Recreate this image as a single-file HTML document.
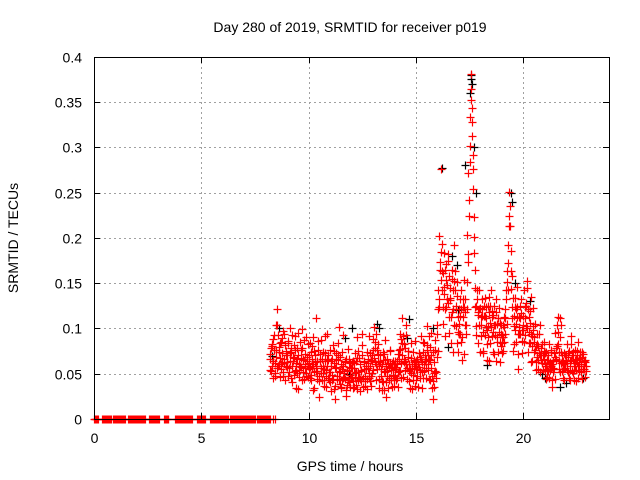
<!DOCTYPE html>
<html><head><meta charset="utf-8"><style>
body{margin:0;background:#fff}
svg{display:block;font-family:"Liberation Sans",sans-serif}
</style></head><body>
<svg id="chart" width="640" height="480" viewBox="0 0 640 480" xmlns="http://www.w3.org/2000/svg">
<rect width="640" height="480" fill="#fff"/>
<text x="350" y="32" font-size="14" text-anchor="middle">Day 280 of 2019, SRMTID for receiver p019</text>
<text x="350" y="471" font-size="14" text-anchor="middle">GPS time / hours</text>
<text transform="translate(18,238) rotate(-90)" font-size="14" text-anchor="middle">SRMTID / TECUs</text>
<g id="grid"></g>
<g id="black"></g>
<g id="red"></g>
<g id="axes"></g>
</svg>
<script>
const xTicks=[0,5,10,15,20];
const yTicks=[0,0.05,0.1,0.15,0.2,0.25,0.3,0.35,0.4];
const yLabels=["0","0.05","0.1","0.15","0.2","0.25","0.3","0.35","0.4"];
const tStart=8.2, tStep=0.05;
const redA=[.072,.053,.081,.064,.093,.047,.076,.122,.061,.084,.055,.073,.097,.062,.043,.071,
.063,.086,.052,.101,.074,.041,.067,.092,.054,.078,.033,.061,.085,.057,.099,.066,.044,.072,.051,.083,
.062,.045,.074,.056,.091,.034,.063,.112,.053,.076,.042,.064,.087,.051,.036,.073,.054,.094,.065,.043,
.052,.031,.066,.044,.075,.022,.057,.084,.043,.068,.035,.055,.093,.046,.064,.032,.053,.077,.041,.062,
.046,.064,.035,.073,.052,.091,.043,.067,.031,.054,.082,.045,.063,.036,.074,.056,.092,.042,.065,.051,
.076,.102,.063,.094,.055,.083,.044,.071,.032,.065,.053,.087,.041,.066,.034,.057,.075,.043,.062,.054,
.036,.064,.045,.072,.053,.094,.062,.112,.046,.083,.064,.104,.056,.075,.042,.067,.033,.074,.055,.086,
.043,.066,.035,.073,.054,.092,.063,.045,.084,.056,.103,.071,.044,.065,.095,.034,.022,.063,.087,.052,
.104,.143,.202,.276,.163,.124,.183,.092,.154,.132,.175,.113,.145,.084,.164,.122,.192,.103,.136,.074,
.122,.094,.143,.065,.113,.154,.132,.104,.203,.272,.334,.381,.312,.254,.223,.145,.103,.132,.084,.121,
.123,.092,.114,.073,.134,.102,.083,.125,.064,.106,.143,.092,.115,.072,.104,.133,.085,.112,.063,.094,
.073,.104,.085,.121,.132,.163,.192,.251,.213,.144,.112,.083,.124,.105,.146,.072,.113,.094,.132,.086,
.114,.143,.093,.125,.152,.084,.106,.063,.092,.123,.074,.105,.054,.083,.065,.094,.052,.073,.062,.085,
.053,.074,.046,.065,.083,.054,.076,.043,.064,.055,.095,.066,.113,.074,.052,.104,.063,.045,.073,.056,
.064,.083,.052,.075,.043,.092,.065,.054,.076,.042,.063,.085,.053,.074,.061,.044,.072,.055,.063];
const redB=[.054,.083,.045,.076,.062,.104,.056,.093,.074,.046,.085,.063,.052,.094,.075,.057,
.084,.056,.073,.045,.093,.064,.082,.053,.034,.066,.095,.054,.076,.043,.065,.087,.056,.091,.064,.046,
.055,.084,.043,.066,.032,.075,.053,.044,.086,.024,.064,.056,.043,.074,.055,.092,.035,.066,.045,.076,
.064,.043,.082,.033,.056,.073,.044,.065,.102,.053,.034,.074,.045,.063,.025,.054,.043,.066,.035,.056,
.063,.034,.056,.045,.064,.033,.075,.044,.053,.094,.035,.064,.042,.055,.033,.066,.045,.073,.036,.064,
.054,.085,.043,.076,.064,.034,.063,.055,.042,.074,.032,.065,.024,.053,.045,.076,.054,.035,.064,.043,
.055,.043,.064,.035,.076,.053,.045,.084,.063,.054,.093,.044,.075,.053,.034,.084,.056,.043,.065,.036,
.064,.055,.073,.045,.066,.034,.085,.053,.064,.045,.076,.054,.092,.043,.056,.074,.035,.053,.045,.094,
.075,.124,.173,.154,.193,.105,.146,.164,.124,.182,.095,.134,.113,.155,.074,.104,.143,.125,.084,.113,
.094,.133,.085,.124,.072,.104,.094,.122,.173,.224,.284,.352,.343,.292,.183,.124,.093,.115,.143,.074,
.104,.133,.075,.114,.093,.124,.065,.103,.135,.084,.113,.074,.125,.093,.064,.105,.074,.123,.085,.104,
.093,.075,.113,.094,.105,.143,.224,.235,.163,.124,.075,.103,.134,.085,.113,.055,.094,.125,.073,.104,
.085,.124,.103,.145,.074,.113,.084,.135,.064,.103,.085,.063,.094,.055,.073,.104,.065,.083,.054,.075,
.073,.044,.065,.053,.045,.074,.035,.056,.073,.044,.065,.104,.083,.055,.112,.074,.053,.064,.043,.065,
.054,.073,.045,.064,.083,.053,.074,.043,.065,.054,.075,.045,.066,.053,.074,.055,.064,.046,.053];
const redC=[.066,.078,.058,.088,.051,.068,.104,.058,.079,.067,.061,.089,.048,.066,.082,.059,
.071,.048,.064,.078,.058,.069,.049,.076,.062,.051,.071,.046,.058,.067,.078,.052,.061,.048,.068,.059,
.071,.057,.049,.081,.061,.052,.071,.058,.064,.047,.072,.051,.066,.059,.043,.064,.047,.058,.071,.052,
.041,.058,.049,.062,.036,.066,.048,.071,.052,.039,.061,.043,.058,.051,.044,.066,.038,.057,.049,.045,
.056,.042,.062,.051,.037,.067,.052,.046,.061,.042,.071,.055,.048,.059,.044,.062,.051,.058,.047,.071,
.088,.067,.078,.061,.072,.058,.063,.048,.061,.041,.072,.052,.058,.047,.061,.043,.062,.056,.049,.061,
.048,.057,.061,.052,.066,.077,.088,.071,.092,.066,.078,.061,.068,.061,.055,.051,.061,.049,.063,.058,
.055,.048,.061,.057,.068,.052,.074,.061,.071,.066,.082,.061,.066,.079,.071,.047,.042,.051,.076,.068,
.121,.132,.165,.184,.142,.161,.138,.122,.171,.148,.128,.158,.131,.118,.143,.152,.163,.121,.151,.096,
.105,.114,.121,.091,.133,.124,.118,.151,.182,.242,.302,.364,.328,.276,.201,.164,.125,.142,.118,.104,
.113,.121,.096,.125,.114,.111,.098,.091,.118,.125,.102,.119,.096,.104,.118,.091,.112,.096,.106,.081,
.084,.091,.102,.111,.142,.151,.172,.213,.186,.158,.134,.114,.098,.121,.124,.094,.102,.112,.117,.098,
.098,.112,.128,.101,.121,.096,.119,.094,.081,.098,.091,.076,.081,.068,.081,.071,.078,.062,.071,.066,
.061,.058,.055,.071,.061,.063,.058,.061,.052,.068,.078,.081,.096,.064,.091,.062,.071,.055,.061,.071,
.071,.062,.068,.058,.065,.071,.051,.062,.059,.066,.071,.058,.061,.067,.052,.068,.059,.065,.058];
const zeroStart=[0.00,0.37,0.89,1.58,2.56,3.26,3.77,4.80,4.99,5.41,6.06,6.34,6.99,7.60,8.34,8.43];
const zeroEnd=  [0.19,0.79,1.44,2.38,3.03,3.49,4.57,4.94,5.17,6.01,6.24,6.94,7.50,8.20,8.34,8.43];
const blackT=[8.3,8.6,11.7,11.9,13.3,14.7,16.2,16.9,17.3,17.52,17.55,17.58,17.62,17.7,17.8,19.45,19.5,19.6,20.3,21.7,22.8,15.8,16.5,18.3,16.7,16.95,12.0,13.2,14.6,20.9,21.0,22.0];
const blackV=[.07,.1,.09,.05,.1,.11,.277,.17,.28,.36,.38,.375,.37,.3,.25,.25,.24,.15,.13,.035,.045,.1,.08,.06,.18,.12,.1,.105,.09,.05,.045,.04];
const X=t=>94+t*(609-94)/24;
const Y=v=>419-v*905.5;
const NS="http://www.w3.org/2000/svg";
function plus(g,t,v,color){
  const p=document.createElementNS(NS,'path');
  const x=Math.round(X(t))+0.5,y=Math.round(Y(v))+0.5;
  p.setAttribute('d',`M${x-4},${y}h8M${x},${y-4}v8`);
  p.setAttribute('stroke',color);p.setAttribute('stroke-width','1.2');
  
  
  g.appendChild(p);
}
const grid=document.getElementById('grid'),axes=document.getElementById('axes');
function line(g,x1,y1,x2,y2,st,dash){const l=document.createElementNS(NS,'line');
l.setAttribute('x1',x1);l.setAttribute('y1',y1);l.setAttribute('x2',x2);l.setAttribute('y2',y2);
l.setAttribute('stroke',st);if(dash)l.setAttribute('stroke-dasharray',dash);g.appendChild(l);return l;}
function text(g,x,y,s,anchor,name){const t=document.createElementNS(NS,'text');t.setAttribute('x',x);t.setAttribute('y',y);
t.setAttribute('font-size','14');t.setAttribute('text-anchor',anchor);t.textContent=s;


g.appendChild(t);}
xTicks.forEach(t=>{const x=Math.round(X(t))+0.5;
 if(t>0)line(grid,x,57,x,419,'#a0a0a0','2,3');
 line(axes,x,419,x,413,'#000');line(axes,x,57,x,63,'#000');
 text(axes,x,443,String(t),'middle','x-tick-label');});
yTicks.forEach((v,i)=>{const y=Math.round(Y(v))+0.5;
 if(v>0&&v<0.4)line(grid,94,y,609,y,'#a0a0a0','2,3');
 line(axes,94,y,100,y,'#000');line(axes,609,y,603,y,'#000');
 text(axes,82,y+5,yLabels[i],'end','y-tick-label');});
const fr=document.createElementNS(NS,'rect');fr.setAttribute('x',94.5);fr.setAttribute('y',57.5);fr.setAttribute('width',515);fr.setAttribute('height',362);
fr.setAttribute('fill','none');fr.setAttribute('stroke','#000');


axes.appendChild(fr);
const bg=document.getElementById('black'),rg=document.getElementById('red');
blackT.forEach((t,i)=>plus(bg,t,blackV[i],'#000'));
zeroStart.forEach((s,i)=>{for(let t=s;t<=zeroEnd[i]+1e-9;t+=0.03)plus(rg,t,0,'#f00');});
redA.forEach((v,i)=>plus(rg,tStart+i*tStep,v,'#f00'));
redB.forEach((v,i)=>plus(rg,tStart+i*tStep+0.025,v,'#f00'));
redC.forEach((v,i)=>plus(rg,tStart+i*tStep+0.0125,v,'#f00'));
</script>
</body></html>
